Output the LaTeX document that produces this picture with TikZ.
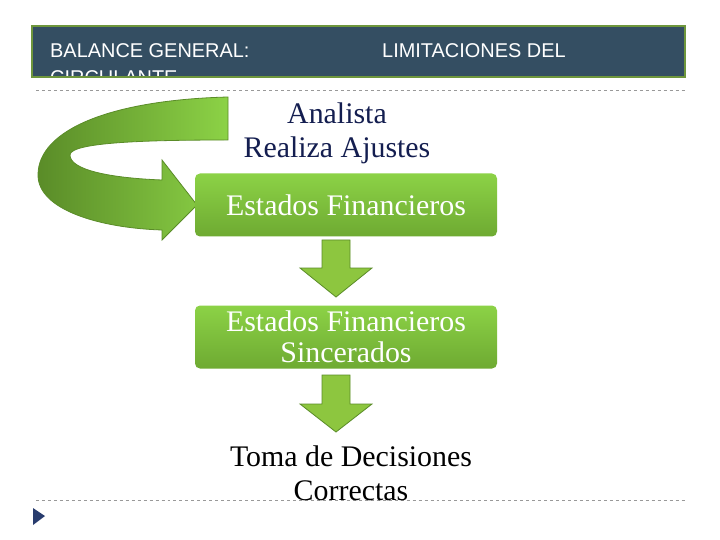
\documentclass[tikz,border=0pt]{standalone}
\usepackage{fontspec}
\setmainfont{Liberation Serif}
\newfontfamily\hdr{Liberation Sans}
\definecolor{hdrbg}{RGB}{52,78,98}
\definecolor{hdrbd}{RGB}{110,150,60}
\definecolor{tri}{RGB}{40,60,110}
\definecolor{navy}{RGB}{20,30,80}
\definecolor{gtop}{RGB}{140,210,70}
\definecolor{gbot}{RGB}{110,170,50}
\definecolor{gdark}{RGB}{90,140,40}
\definecolor{gfill}{RGB}{141,198,63}
\begin{document}
\begin{tikzpicture}[x=1bp,y=-1bp,
  gbox/.style={rounded corners=5bp, top color=gtop, bottom color=gbot, draw=none, minimum width=302bp, minimum height=63bp, align=center, font=\fontsize{30}{31}\selectfont, text=white},
  darr/.style={fill=gfill, draw=gdark, line width=0.8bp},
  dline/.style={dashed, draw=gray!80, line width=0.6bp}]
\useasboundingbox (0,0) rectangle (720,540);
\fill[white] (0,0) rectangle (720,540);
\begin{scope}
\clip (32,26) rectangle (685,77);
\fill[hdrbg] (32,26) rectangle (685,77);
\node[anchor=north west, text=white, font=\hdr\fontsize{20}{27}\selectfont, align=left, inner sep=0pt] (h1) at (50,43) {BALANCE GENERAL:\\CIRCULANTE};
\end{scope}
\draw[draw=hdrbd, line width=2.5bp] (32,26) rectangle (685,77);
\node[anchor=north west, text=white, font=\hdr\fontsize{20}{24}\selectfont, inner sep=0pt] (h2) at (382,43) {LIMITACIONES DEL};
\draw[dline] (36,90) -- (685,90);
\draw[dline] (36,500) -- (685,500);
\fill[tri] (33,508) -- (45,516) -- (33,525) -- cycle;
\path[left color=gdark, right color=gtop, draw=gdark, line width=0.8bp]
 (228,97) .. controls (110,100) and (38,130) .. (38,175) .. controls (38,210) and (100,228) .. (162,230)
 -- (162,240) -- (197,205) -- (162,160) -- (162,180)
 .. controls (110,178) and (70,170) .. (70,155) .. controls (70,142) and (150,140) .. (228,140) -- cycle;
\node[text=navy, font=\fontsize{30}{34}\selectfont, align=center] (an) at (337,133) {Analista\\Realiza Ajustes};
\node[gbox] (b1) at (346,205) {Estados Financieros};
\node[gbox] (b2) at (346,337) {Estados Financieros\\Sincerados};
\node[font=\fontsize{30}{34}\selectfont, align=center] (b3) at (351,473) {Toma de Decisiones\\Correctas};
\path[darr] (322,240) -- (350,240) -- (350,268) -- (372,268) -- (336,297) -- (300,268) -- (322,268) -- cycle;
\path[darr] (322,375) -- (350,375) -- (350,404) -- (372,404) -- (336,432) -- (300,404) -- (322,404) -- cycle;
\end{tikzpicture}
\end{document}
